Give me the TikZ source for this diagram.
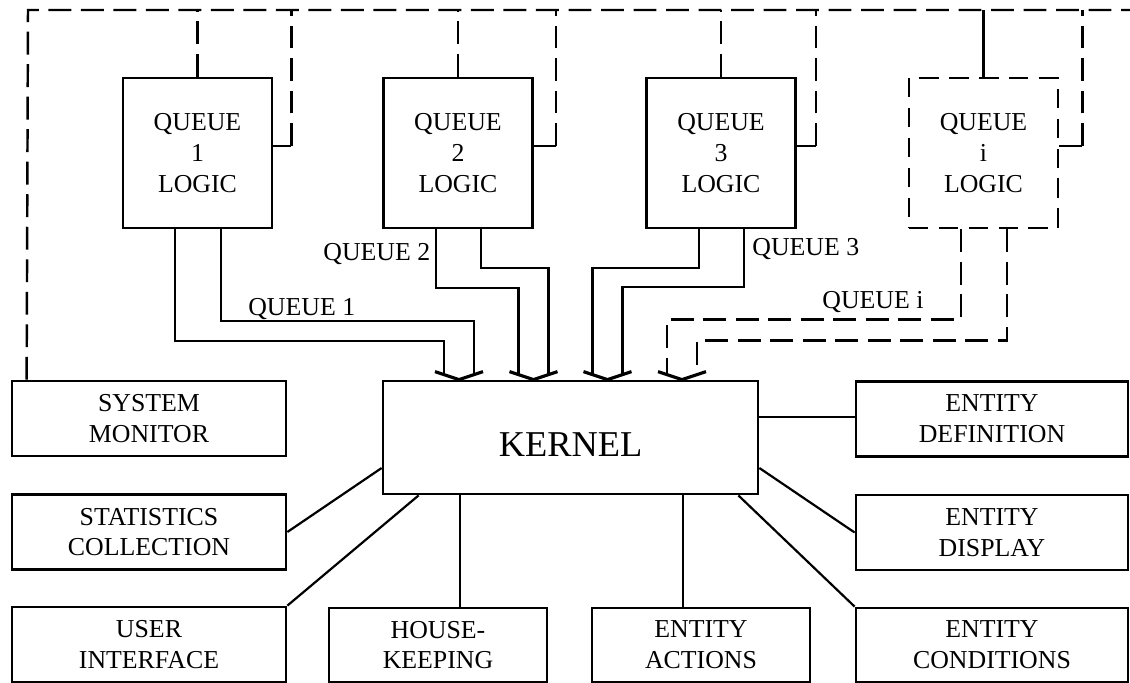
\documentclass[tikz,border=0pt]{standalone}
\usepackage{fontspec}
\setmainfont{Liberation Serif}
\usetikzlibrary{calc}
\begin{document}
\begin{tikzpicture}[x=0.02cm,y=-0.02cm,
  txt/.style={font=\fontsize{14.7}{17.5}\selectfont},
  box/.style={draw,line width=1.6pt,inner sep=0pt,align=center,txt},
  qbox/.style={box,minimum width=2.98cm,minimum height=3cm},
  sbox/.style={box,minimum width=5.48cm,minimum height=1.5cm},
  mbox/.style={box,minimum width=4.36cm,minimum height=1.48cm},
  conn/.style={line width=1.25pt},
  dsh/.style={line width=1.4pt,dash pattern=on 13pt off 5.5pt},
  chev/.style={line width=1.8pt,line join=miter},
  lbl/.style={txt,inner sep=0pt,anchor=base west}]
\useasboundingbox (0,0) rectangle (1130,683);

% queue logic boxes
\node[qbox] (q1) at (197.5,153) {QUEUE\\1\\LOGIC};
\node[qbox] (q2) at (458,153) {QUEUE\\2\\LOGIC};
\node[qbox] (q3) at (721,153) {QUEUE\\3\\LOGIC};
\node[qbox,dash pattern=on 11pt off 6pt] (qi) at (983.5,153) {QUEUE\\i\\LOGIC};

% kernel
\node[box,minimum width=7.5cm,minimum height=2.26cm,font=\fontsize{20.7}{24}\selectfont,text height=21.7pt,text depth=0pt] (kernel) at (570.5,437.5) {KERNEL};

% surrounding boxes
\node[sbox] (sysmon) at (149,418.5) {SYSTEM\\MONITOR};
\node[sbox] (stats) at (149,532) {STATISTICS\\COLLECTION};
\node[sbox] (user) at (149,644.5) {USER\\INTERFACE};
\node[mbox] (house) at (438,645) {HOUSE-\\KEEPING};
\node[mbox] (actions) at (701,645) {ENTITY\\ACTIONS};
\node[sbox,minimum width=5.44cm] (edef) at (992,419) {ENTITY\\DEFINITION};
\node[sbox,minimum width=5.44cm] (edisp) at (992,532.5) {ENTITY\\DISPLAY};
\node[sbox,minimum width=5.44cm,minimum height=1.48cm] (econd) at (992,645) {ENTITY\\CONDITIONS};

% top dashed bus
\coordinate (busL) at (28,10);
\coordinate (busR) at (1130,10);
\draw[dsh] ($(sysmon.north west)+(16,0)$) -- (busL) -- (busR);

\draw[dsh] (q1.north) -- (q1.north |- busL);
\draw[dsh] (q2.north) -- (q2.north |- busL);
\draw[dsh] (q3.north) -- (q3.north |- busL);
\draw[conn] (qi.north) -- (qi.north |- busL);

\draw[conn] ($(q1.east)+(0,-7)$) -- ++(18,0) coordinate (s1);
\draw[dsh] (s1) -- (s1 |- busL);
\draw[conn] ($(q2.east)+(0,-7)$) -- ++(22,0) coordinate (s2);
\draw[dsh] (s2) -- (s2 |- busL);
\draw[conn] ($(q3.east)+(0,-7)$) -- ++(19,0) coordinate (s3);
\draw[dsh] (s3) -- (s3 |- busL);
\draw[conn] ($(qi.east)+(0,-7)$) -- ++(23,0) coordinate (s4);
\draw[dsh] (s4) -- (s4 |- busL);

% arrow tips on kernel
\coordinate (t1) at ($(kernel.north)+(-111.5,0)$);
\coordinate (t2) at ($(kernel.north)+(-37,0)$);
\coordinate (t3) at ($(kernel.north)+(37,0)$);
\coordinate (t4) at ($(kernel.north)+(111.5,0)$);
\foreach \t in {t1,t2,t3,t4}
  \draw[chev] ($(\t)+(-24,-8)$) -- (\t) -- ($(\t)+(24,-8)$);

% queue outputs
\draw[conn] ($(q1.south)+(-22.5,0)$) |- ($(t1)+(-15,-39)$) -- ($(t1)+(-15,-5)$);
\draw[conn] ($(q1.south)+(23.5,0)$) |- ($(t1)+(15,-59)$) -- ($(t1)+(15,-5)$);
\draw[conn] ($(q2.south)+(-22,0)$) |- ($(t2)+(-15,-92)$) -- ($(t2)+(-15,-5)$);
\draw[conn] ($(q2.south)+(23,0)$) |- ($(t2)+(15,-112)$) -- ($(t2)+(15,-5)$);
\draw[conn] ($(q3.south)+(-22,0)$) |- ($(t3)+(-15,-112)$) -- ($(t3)+(-15,-5)$);
\draw[conn] ($(q3.south)+(23,0)$) |- ($(t3)+(15,-93)$) -- ($(t3)+(15,-5)$);
\draw[dsh] ($(qi.south)+(-22.5,0)$) |- ($(t4)+(-15,-60)$) -- ($(t4)+(-15,-5)$);
\draw[dsh] ($(qi.south)+(23.5,0)$) |- ($(t4)+(15,-39)$) -- ($(t4)+(15,-5)$);

% labels
\node[lbl] (lq1) at (248,315) {QUEUE 1};
\node[lbl] (lq2) at (323,260) {QUEUE 2};
\node[lbl] (lq3) at (752,255) {QUEUE 3};
\node[lbl] (lqi) at (822,308) {QUEUE i};

% kernel connections
\draw[conn] ($(kernel.west)+(0,-17.5)$) -- ($(kernel.west)+(0,-17.5)$ -| sysmon.east);
\draw[conn] (stats.east) -- ($(kernel.west)+(0,30.5)$);
\draw[conn] (user.north east) -- ($(kernel.south west)+(37,0)$);
\draw[conn] ($(kernel.south)+(-110.5,0)$) coordinate (h1) -- (h1 |- house.north);
\draw[conn] ($(kernel.south)+(112.5,0)$) coordinate (a1) -- (a1 |- actions.north);
\draw[conn] ($(kernel.east)+(0,-20.5)$) coordinate (d1) -- (d1 -| edef.west);
\draw[conn] ($(kernel.east)+(0,30.5)$) -- (edisp.west);
\draw[conn] ($(kernel.south east)+(-21,0)$) -- (econd.north west);
\end{tikzpicture}
\end{document}
